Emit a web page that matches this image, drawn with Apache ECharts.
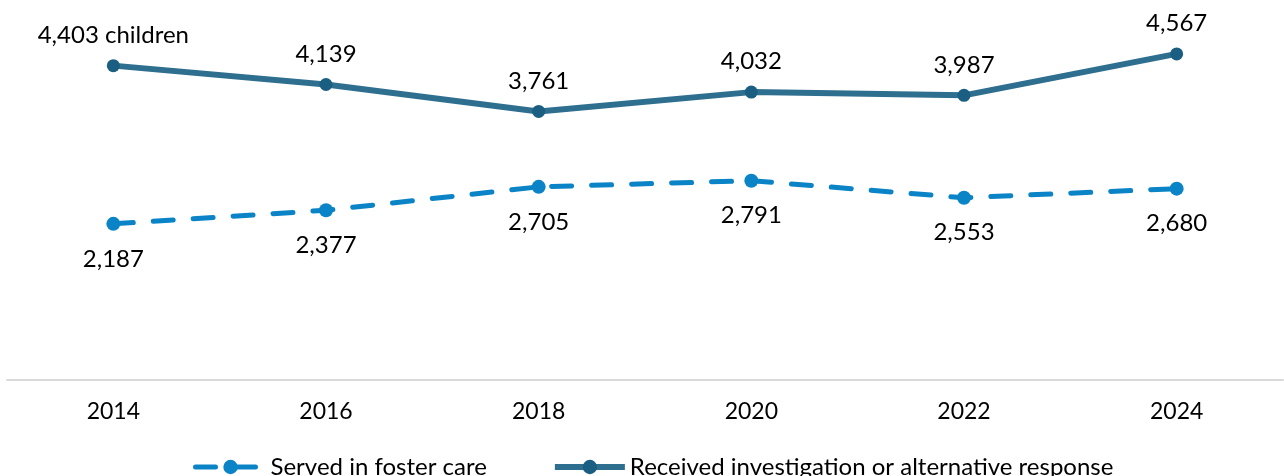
<!DOCTYPE html>
<html><head><meta charset="utf-8">
<script src="https://cdn.jsdelivr.net/npm/echarts@6/dist/echarts.min.js"></script>
<style>html,body{margin:0;padding:0;background:#fff}#c{width:1284px;height:476px}</style>
</head><body><div id="c"></div>
<script>
const years = ['2014','2016','2018','2020','2022','2024'];
const fosterCare = [2187, 2377, 2705, 2791, 2553, 2680];
const investigation = [4403, 4139, 3761, 4032, 3987, 4567];

const fmt = v => v.toLocaleString('en-US');
const chart = echarts.init(document.getElementById('c'));
chart.setOption({
  animation: false,
  textStyle: { fontFamily: 'Lato', color: '#000' },
  grid: { left: 7, right: 1, top: 23, bottom: 96 },
  xAxis: {
    type: 'category', data: years, boundaryGap: true,
    axisLine: { lineStyle: { color: '#d9d9d9', width: 2 } },
    axisTick: { show: false },
    axisLabel: { fontSize: 23, color: '#000', margin: 20, fontFamily: 'Lato' }
  },
  yAxis: { type: 'value', min: 0, max: 5000, show: false, splitLine: { show: false } },
  legend: {
    top: 450, left: 188, itemWidth: 70, itemHeight: 18, itemGap: 65,
    textStyle: { fontSize: 24, color: '#000', fontFamily: 'Lato' },
    lineStyle: { width: 'inherit' },
    data: ['Served in foster care', 'Received investigation or alternative response']
  },
  series: [
    {
      name: 'Served in foster care', type: 'line', data: fosterCare,
      symbol: 'circle', symbolSize: 14,
      lineStyle: { color: '#0a84c6', width: 5, type: [20, 20], cap: 'round' },
      itemStyle: { color: '#0a84c6' },
      label: { show: true, position: 'bottom', distance: 16, fontSize: 24, color: '#000', fontFamily: 'Lato',
        formatter: p => fmt(p.value) }
    },
    {
      name: 'Received investigation or alternative response', type: 'line', data: investigation,
      symbol: 'circle', symbolSize: 13,
      lineStyle: { color: '#2e6e8e', width: 6 },
      itemStyle: { color: '#1a5f82' },
      label: { show: true, position: 'top', distance: 12, fontSize: 24, color: '#000', fontFamily: 'Lato',
        formatter: p => p.dataIndex === 0 ? fmt(p.value) + ' children' : fmt(p.value) }
    }
  ]
});
</script></body></html>
